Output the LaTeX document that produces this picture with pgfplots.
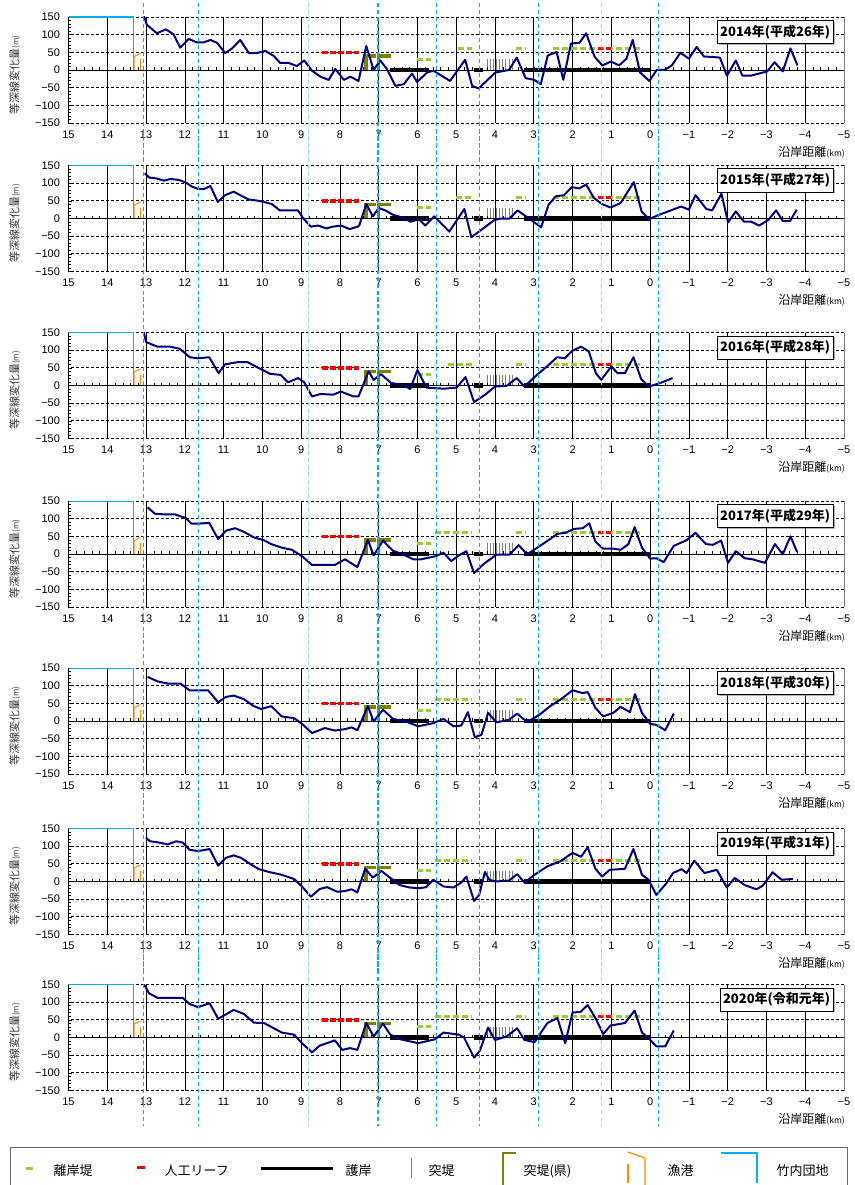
\documentclass[border=0pt]{standalone}
\usepackage{fontspec}
\setmainfont{Noto Sans CJK JP}
\newfontfamily\numfont{Liberation Sans}
\usepackage{pgfplots}
\pgfplotsset{compat=1.18}
\usetikzlibrary{shadows}
\definecolor{navyl}{RGB}{0,0,128}
\definecolor{ygreen}{RGB}{154,205,50}
\definecolor{olivek}{RGB}{128,128,0}
\definecolor{harbor}{RGB}{255,140,0}
\definecolor{cyanl}{RGB}{0,176,240}
\definecolor{cyanlt}{RGB}{150,220,250}

\pgfplotsset{
  panel/.style={
    anchor=north west, scale only axis, width=775.5pt, height=106pt,
    xmin=-5, xmax=15, x dir=reverse, ymin=-150, ymax=150,
    clip mode=individual,
    axis line style={draw=none},
    xtick={-5,...,15},
    xticklabels={−5,−4,−3,−2,−1,0,1,2,3,4,5,6,7,8,9,10,11,12,13,14,15},
    ytick={-150,-100,...,150},
    yticklabels={−150,−100,−50,0,50,100,150},
    minor y tick num=4,
    tick align=inside, tick pos=left,
    major tick length=4pt, minor tick length=2.5pt,
    xtick style={draw=none},
    ytick style={black, line width=0.6pt},
    xmajorgrids, ymajorgrids,
    major x grid style={black, line width=0.6pt},
    major y grid style={black, line width=0.8pt, dash pattern=on 3pt off 2pt},
    xticklabel style={font=\numfont\fontsize{11}{13}\selectfont, yshift=-4pt},
    yticklabel style={font=\numfont\fontsize{11}{13}\selectfont, xshift=-5pt},
    ylabel={\fontsize{11}{12}\selectfont 等深線変化量\fontsize{8}{9}\selectfont(m)},
    ylabel style={yshift=8pt, xshift=-5pt, text=black!80},
  }
}

\newcommand{\structs}[1]{%
 \addplot[cyanl, line width=1.2pt] coordinates {(15,150) (13.33,150) (13.33,0)};
 \addplot[harbor, line width=1pt] coordinates {(13.31,0) (13.31,38) (13.14,47)};
 \addplot[harbor, line width=1pt] coordinates {(13.14,30) (13.14,0)};
 \addplot[ygreen, line width=3pt, dash pattern=on 6pt off 3pt] coordinates {(6.0,30) (5.65,30)};
 \addplot[ygreen, line width=3pt, dash pattern=on 6pt off 3pt] coordinates {(#1,60) (4.6,60)};
 \addplot[ygreen, line width=3pt, dash pattern=on 6pt off 3pt] coordinates {(3.45,60) (3.2,60)};
 \addplot[ygreen, line width=3pt, dash pattern=on 6pt off 3pt] coordinates {(2.5,60) (0.2,60)};
 \addplot[red, line width=3.5pt, dash pattern=on 6pt off 2pt] coordinates {(8.45,50) (7.5,50)};
 \addplot[red, line width=3pt, dash pattern=on 5pt off 3pt] coordinates {(1.35,60) (1.0,60)};
 \addplot[gray, ycomb, line width=0.8pt] coordinates {(4.2,30) (4.12,30) (4.04,30) (3.96,30) (3.88,30) (3.8,30) (3.72,30) (3.64,30) (3.56,30)};
 \addplot[black, line width=4.5pt] coordinates {(6.7,0) (5.7,0)};
 \addplot[black, line width=4.5pt] coordinates {(4.55,0) (4.3,0)};
 \addplot[black, line width=4.5pt] coordinates {(3.25,0) (0,0)};
 \addplot[olivek, line width=3.5pt, line join=miter] coordinates {(7.33,0) (7.33,40) (7.07,40)};
 \addplot[olivek, line width=3.5pt, line join=miter] coordinates {(7.0,0) (7.0,40) (6.68,40)};
 \draw[black, line width=0.8pt] (rel axis cs:0,0.5) -- (rel axis cs:1,0.5);
 \draw[black, line width=0.8pt] (rel axis cs:0,0) -- (rel axis cs:0,1);
 \draw[gray, line width=0.8pt] (rel axis cs:1,0) -- (rel axis cs:1,1);
 \pgfplotsinvokeforeach{-4.8,-4.6,...,14.8}{\draw[black, line width=0.5pt] (axis cs:##1,0) -- ++(0pt,3pt);}
}

\newcommand{\cyanlines}{%
 \pgfplotsinvokeforeach{13.06,11.65,7.02,5.5,4.39,2.87,-0.21}{\draw[cyanl, line width=1.2pt, dash pattern=on 4pt off 3pt] (axis cs:##1,250) -- (axis cs:##1,-250);}
 \pgfplotsinvokeforeach{8.81,1.26}{\draw[cyanlt, line width=0.8pt, dash pattern=on 4pt off 3pt] (axis cs:##1,250) -- (axis cs:##1,-250);}
}

\newcommand{\panel}[4]{%
\begin{axis}[panel, at={(68.5pt,-#1pt)}]
\structs{#4}
\addplot[navyl, line width=2pt, line join=round] coordinates {#3};
\cyanlines
\node[draw=black, line width=0.8pt, fill=white, anchor=north east, font=\bfseries\fontsize{13}{15}\selectfont, inner xsep=3pt, minimum height=23pt, yshift=-3pt, drop shadow={shadow xshift=1.5pt, shadow yshift=-1.5pt, fill=black!60}] at (rel axis cs:0.9865,1) {#2};
\node[anchor=east, yshift=-29pt, xshift=1pt, inner sep=0pt] at (rel axis cs:1,0) {\fontsize{12}{13}\selectfont 沿岸距離\fontsize{8.5}{9}\selectfont(km)};
\end{axis}}

\begin{document}
\begin{tikzpicture}[x=1pt,y=1pt]
\useasboundingbox (0,0) rectangle (854,-1185);

\panel{17}{2014年(平成26年)}{(13.05,152)(12.98,128)(12.72,104)(12.49,115)(12.29,101)(12.12,63)(11.9,88)(11.69,78)(11.52,78)(11.34,85)(11.17,77)(10.96,48)(10.78,61)(10.57,85)(10.35,48)(10.14,48)(9.92,54)(9.71,40)(9.54,20)(9.32,20)(9.11,11)(8.92,27)(8.72,-2)(8.5,-19)(8.29,-28)(8.12,3)(7.9,-28)(7.73,-19)(7.52,-31)(7.32,68)(7.13,0)(6.96,27)(6.79,3)(6.57,-45)(6.35,-40)(6.14,-10)(6.01,-34)(5.75,-7)(5.59,-2)(5.16,-31)(4.77,29)(4.59,-45)(4.42,-52)(3.99,-7)(3.64,0)(3.44,35)(3.21,-23)(2.99,-28)(2.82,-40)(2.64,41)(2.41,51)(2.24,-28)(2.04,75)(1.82,77)(1.65,104)(1.43,37)(1.23,13)(1.01,24)(0.8,13)(0.61,32)(0.45,85)(0.26,-7)(0.02,-31)(-0.17,0)(-0.37,0)(-0.56,13)(-0.78,49)(-1.0,32)(-1.2,65)(-1.39,38)(-1.6,37)(-1.8,35)(-1.98,-16)(-2.21,27)(-2.38,-16)(-2.6,-16)(-3.02,-4)(-3.21,22)(-3.42,-4)(-3.62,61)(-3.8,13)}{4.95}

\panel{165.5}{2015年(平成27年)}{(13.03,128)(12.92,116)(12.71,113)(12.54,107)(12.37,112)(12.15,109)(11.98,102)(11.81,90)(11.64,83)(11.51,83)(11.34,92)(11.15,47)(10.96,66)(10.74,76)(10.57,66)(10.36,54)(10.15,51)(9.97,47)(9.76,41)(9.55,23)(9.33,23)(9.08,23)(8.95,1)(8.75,-23)(8.56,-20)(8.35,-28)(8.18,-23)(7.97,-20)(7.75,-30)(7.54,-23)(7.5,-19)(7.32,41)(7.15,6)(7.0,30)(6.81,22)(6.64,11)(6.43,4)(6.17,-9)(5.96,-2)(5.8,-20)(5.57,6)(5.18,-37)(4.79,27)(4.61,-53)(4.01,-4)(3.84,0)(3.62,0)(3.42,23)(3.01,-9)(2.81,-25)(2.62,39)(2.43,63)(2.22,66)(2.02,89)(1.83,85)(1.65,96)(1.45,58)(1.24,41)(1.02,31)(0.76,44)(0.42,103)(0.22,20)(0.03,-2)(-0.22,10)(-0.8,34)(-1.0,25)(-1.17,66)(-1.45,27)(-1.6,23)(-1.84,70)(-2.01,-11)(-2.21,20)(-2.42,-9)(-2.61,-9)(-2.81,-20)(-3.05,-4)(-3.25,23)(-3.42,-7)(-3.61,-7)(-3.78,25)}{5.0}

\panel{332.5}{2016年(平成28年)}{(13.06,153)(13.0,123)(12.71,110)(12.39,110)(12.13,104)(11.87,80)(11.67,77)(11.37,80)(11.13,35)(10.96,60)(10.64,66)(10.38,66)(10.12,51)(9.8,33)(9.53,30)(9.34,9)(9.08,21)(8.92,9)(8.72,-31)(8.5,-24)(8.17,-26)(7.98,-17)(7.65,-31)(7.52,-31)(7.26,40)(7.13,16)(6.94,32)(6.68,7)(6.36,2)(6.19,-10)(6.0,44)(5.77,-6)(5.32,-9)(4.99,-6)(4.76,24)(4.54,-47)(4.28,-28)(4.0,-3)(3.7,-1)(3.44,21)(3.24,-3)(2.92,30)(2.66,54)(2.4,80)(2.2,77)(2.01,98)(1.78,110)(1.58,96)(1.4,35)(1.26,16)(1.0,54)(0.84,35)(0.65,35)(0.43,80)(0.23,18)(0.03,-3)(-0.26,7)(-0.58,21)}{5.2}

\panel{501}{2017年(平成29年)}{(12.96,132)(12.77,114)(12.51,112)(12.25,112)(11.98,102)(11.83,86)(11.66,86)(11.37,88)(11.14,42)(10.94,66)(10.7,73)(10.48,63)(10.22,47)(9.96,39)(9.77,28)(9.5,18)(9.24,12)(8.98,-6)(8.72,-31)(8.13,-31)(7.87,-15)(7.55,-37)(7.28,40)(7.13,-4)(6.89,38)(6.63,9)(6.37,-1)(6.11,-15)(5.91,-15)(5.52,-6)(5.33,4)(5.13,-20)(4.93,-4)(4.74,8)(4.54,-54)(4.28,-27)(3.96,-2)(3.63,-2)(3.39,25)(3.17,-1)(2.91,18)(2.65,37)(2.39,57)(2.19,60)(1.96,71)(1.74,73)(1.57,87)(1.41,35)(1.21,15)(0.95,15)(0.76,12)(0.56,28)(0.4,76)(0.21,18)(0,-13)(-0.16,-12)(-0.35,-23)(-0.61,23)(-0.94,39)(-1.17,60)(-1.44,28)(-1.62,26)(-1.83,38)(-2.01,-25)(-2.21,8)(-2.44,-12)(-2.64,-15)(-2.96,-25)(-3.22,28)(-3.42,-1)(-3.62,50)(-3.79,6)}{5.55}

\panel{668}{2018年(平成30年)}{(12.96,125)(12.7,112)(12.44,106)(12.11,106)(11.88,87)(11.4,87)(11.14,53)(10.94,68)(10.74,72)(10.48,62)(10.22,42)(10.03,34)(9.77,42)(9.5,13)(9.18,8)(8.98,-8)(8.72,-34)(8.39,-20)(8.13,-27)(7.87,-23)(7.7,-18)(7.55,-26)(7.28,42)(7.13,-1)(6.89,32)(6.63,6)(6.31,-1)(5.98,-15)(5.59,-6)(5.33,6)(5.07,-15)(4.87,-13)(4.7,25)(4.52,-46)(4.35,-39)(4.18,23)(3.96,-4)(3.63,4)(3.43,21)(3.17,-3)(2.85,18)(2.58,42)(2.32,60)(2.0,87)(1.74,79)(1.61,82)(1.41,37)(1.21,13)(0.95,23)(0.76,40)(0.52,25)(0.39,76)(0.21,23)(0,-8)(-0.16,-11)(-0.39,-26)(-0.61,21)}{5.55}

\panel{828.5}{2019年(平成31年)}{(13.0,124)(12.9,114)(12.7,111)(12.44,105)(12.22,114)(12.05,110)(11.88,90)(11.66,86)(11.36,92)(11.14,45)(10.94,67)(10.74,74)(10.55,67)(10.29,48)(10.09,35)(9.83,27)(9.5,19)(9.18,7)(8.98,-14)(8.75,-43)(8.52,-21)(8.33,-16)(8.07,-29)(7.87,-27)(7.7,-22)(7.55,-31)(7.35,36)(7.15,11)(6.93,30)(6.7,10)(6.46,-10)(6.2,-17)(5.95,-19)(5.78,-16)(5.59,5)(5.33,-14)(5.07,-17)(4.87,-3)(4.74,14)(4.54,-55)(4.41,-38)(4.26,27)(4.15,5)(3.98,0)(3.63,3)(3.43,21)(3.24,-3)(2.98,19)(2.65,43)(2.32,57)(2.0,81)(1.78,70)(1.61,97)(1.41,36)(1.24,14)(1.04,33)(0.65,36)(0.43,92)(0.21,19)(0.04,5)(-0.16,-38)(-0.42,-5)(-0.59,24)(-0.81,35)(-0.94,24)(-1.14,59)(-1.4,24)(-1.72,33)(-1.98,-17)(-2.18,10)(-2.44,-10)(-2.74,-22)(-2.9,-12)(-3.16,26)(-3.39,5)(-3.68,7)}{5.55}

\panel{984.5}{2020年(令和元年)}{(13.05,150)(12.92,125)(12.7,112)(12.05,112)(11.88,95)(11.66,86)(11.36,97)(11.14,53)(10.74,78)(10.48,67)(10.22,42)(9.96,41)(9.7,26)(9.5,14)(9.18,8)(8.98,-16)(8.72,-42)(8.52,-23)(8.13,-8)(7.94,-35)(7.74,-30)(7.55,-35)(7.32,41)(7.13,3)(6.89,39)(6.7,8)(6.44,-5)(5.98,-16)(5.55,-5)(5.33,14)(4.93,8)(4.8,0)(4.54,-57)(4.39,-37)(4.18,28)(4.0,-7)(3.7,3)(3.43,26)(3.24,-7)(2.98,-13)(2.65,41)(2.39,55)(2.19,-16)(2.0,71)(1.8,72)(1.61,92)(1.41,55)(1.21,10)(1.02,34)(0.65,41)(0.4,76)(0.21,14)(0.04,-2)(-0.16,-25)(-0.39,-25)(-0.61,20)}{5.55}

% legend
\draw[black!60, line width=0.8pt] (10,-1147) rectangle (847,-1195);
\draw[ygreen, line width=3pt] (26,-1168) -- (33,-1168);
\node[anchor=west, font=\fontsize{13}{15}\selectfont] at (50,-1171) {離岸堤};
\draw[red, line width=2.5pt] (137,-1167.5) -- (145,-1167.5);
\node[anchor=west, font=\fontsize{13}{15}\selectfont] at (161,-1171) {人工リーフ};
\draw[black, line width=3pt] (261,-1168) -- (333,-1168);
\node[anchor=west, font=\fontsize{13}{15}\selectfont] at (342,-1171) {護岸};
\draw[gray, line width=1pt] (411,-1158) -- (411,-1178);
\node[anchor=west, font=\fontsize{13}{15}\selectfont] at (425,-1171) {突堤};
\draw[olivek, line width=2pt] (503,-1186) -- (503,-1153) -- (516,-1153);
\node[anchor=west, font=\fontsize{13}{15}\selectfont] at (520,-1171) {突堤(県)};
\draw[harbor, line width=1.2pt] (628,-1152) -- (645,-1158) -- (645,-1186);
\draw[harbor, line width=1.2pt] (628,-1164) -- (628,-1183);
\node[anchor=west, font=\fontsize{13}{15}\selectfont] at (664,-1171) {漁港};
\draw[cyanl, line width=1.2pt] (721,-1153) -- (757,-1153) -- (757,-1183);
\node[anchor=west, font=\fontsize{13}{15}\selectfont] at (773,-1171) {竹内団地};
\end{tikzpicture}
\end{document}
